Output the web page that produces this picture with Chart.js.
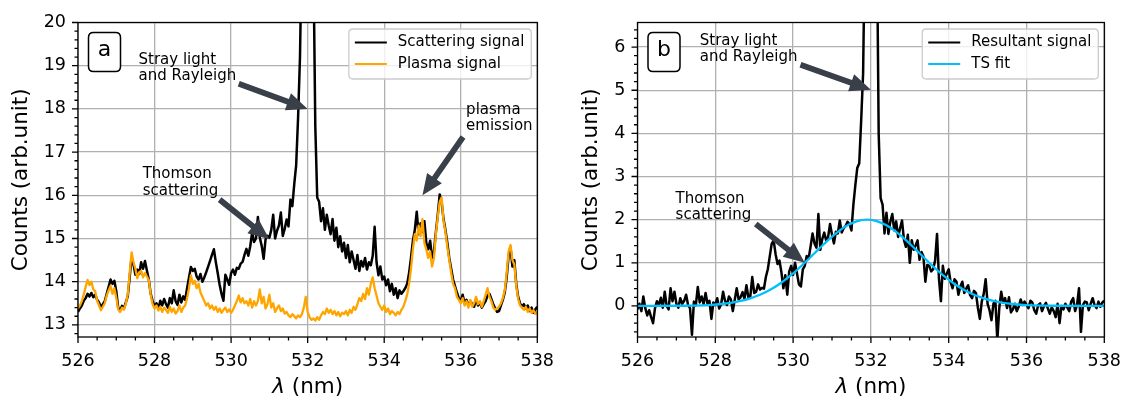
<!DOCTYPE html>
<html lang="en">
<head>
<meta charset="UTF-8">
<title>Thomson scattering spectra</title>
<style>
  body { margin: 0; background: #fff; }
  #wrap { position: relative; width: 1135px; height: 403px; }
  canvas { position: absolute; top: 0; }
  #chartA { left: 0; }
  #chartB { left: 568px; }
</style>
</head>
<body>
<div id="wrap">
  <canvas id="chartA" width="568" height="403"></canvas>
  <canvas id="chartB" width="567" height="403"></canvas>
</div>
<script src="https://cdn.jsdelivr.net/npm/chart.js"></script>
<script>
// spectrometer grid: 526.00 ... 538.00 nm, 0.05 nm per sample
const lambdaStart = 526;
const lambdaStep = 0.05;

// panel a, black (one row per nm)
const scatteringSignal = [
  13.30,13.38,13.45,13.56,13.62,13.72,13.66,13.74,13.64,13.70,13.58,13.52,13.40,13.48,13.55,13.72,13.88,14.05,13.95,14.02,
  13.78,13.40,13.34,13.44,13.38,13.52,13.66,14.10,14.57,14.40,14.16,14.28,14.18,14.45,14.30,14.48,14.26,14.05,13.72,13.55,
  13.42,13.50,13.38,13.56,13.45,13.60,13.48,13.40,13.62,13.50,13.80,13.55,13.46,13.70,13.52,13.66,13.58,13.85,14.10,14.34,
  14.25,14.30,14.12,14.05,14.18,14.00,14.10,14.22,14.35,14.48,14.62,14.75,14.46,14.20,13.93,13.72,13.56,14.16,14.05,13.93,
  14.20,14.28,14.16,14.32,14.30,14.42,14.46,14.62,14.76,14.60,14.82,15.14,14.92,15.00,15.50,15.02,14.83,14.53,14.98,15.06,
  15.02,15.20,15.55,15.00,15.18,15.30,15.60,15.06,15.22,15.44,15.28,15.90,15.75,16.26,16.70,17.80,19.20,22.0,32.0,45.0,
  52.0,46.0,33.0,21.5,17.6,15.95,15.85,15.40,15.70,15.20,15.55,15.30,15.10,15.45,14.95,15.25,14.80,15.05,14.70,14.90,
  14.55,14.85,14.45,14.70,14.50,14.30,14.62,14.25,14.48,14.35,14.55,14.28,14.45,14.38,14.60,15.27,14.45,14.15,14.35,14.05,
  14.12,13.92,14.05,13.78,13.95,13.70,13.85,13.62,13.80,13.72,13.78,13.85,13.95,14.20,14.55,14.95,15.20,15.62,15.10,15.35,
  15.15,15.40,14.90,14.75,14.95,14.55,14.70,15.15,15.55,16.02,15.85,15.45,15.20,14.90,14.55,14.30,14.05,13.90,13.75,13.62,
  13.55,13.70,13.50,13.58,13.45,13.55,13.48,13.42,13.60,13.45,13.52,13.40,13.48,13.55,13.68,13.72,13.60,13.48,13.38,13.30,
  13.32,13.45,13.58,13.75,14.10,14.60,14.80,14.35,14.50,13.95,13.65,13.50,13.42,13.48,13.38,13.45,13.32,13.40,13.28,13.36,
  13.42
];

// panel a, orange
const plasmaSignal = [
  13.38,13.45,13.55,13.70,13.88,14.04,13.92,14.00,13.82,13.78,13.56,13.45,13.34,13.42,13.50,13.68,13.80,13.90,13.72,13.85,
  13.63,13.36,13.30,13.40,13.35,13.50,13.70,14.20,14.68,14.45,14.30,14.08,14.22,14.25,14.10,14.20,14.12,14.04,13.70,13.48,
  13.38,13.45,13.33,13.42,13.30,13.40,13.35,13.28,13.42,13.30,13.38,13.26,13.32,13.45,13.30,13.40,13.45,13.62,13.85,14.15,
  13.95,14.02,13.85,13.95,13.75,13.65,13.55,13.45,13.50,13.38,13.45,13.35,13.42,13.30,13.38,13.28,13.35,13.40,13.30,13.36,
  13.28,13.35,13.45,13.55,13.68,13.52,13.62,13.50,13.55,13.45,13.60,13.40,13.55,13.45,13.55,13.82,13.50,13.65,13.38,13.48,
  13.70,13.40,13.50,13.30,13.38,13.45,13.32,13.38,13.26,13.30,13.22,13.18,13.25,13.20,13.15,13.22,13.18,13.25,13.40,13.65,
  13.30,13.18,13.12,13.15,13.10,13.18,13.12,13.22,13.30,13.25,13.38,13.28,13.35,13.25,13.32,13.22,13.30,13.20,13.28,13.25,
  13.32,13.22,13.35,13.28,13.42,13.35,13.48,13.62,13.55,13.72,13.60,13.85,13.70,13.95,14.10,13.85,13.68,13.50,13.42,13.35,
  13.45,13.30,13.38,13.25,13.32,13.28,13.22,13.30,13.25,13.35,13.42,13.55,13.70,13.95,14.30,14.75,15.10,14.95,15.30,15.05,
  15.45,14.90,14.75,14.55,14.70,14.35,14.55,15.10,15.50,15.85,15.95,15.40,15.15,14.80,14.50,14.20,13.95,13.85,13.65,13.58,
  13.50,13.62,13.45,13.55,13.40,13.58,13.42,13.50,13.65,13.48,13.55,13.42,13.55,13.70,13.85,13.65,13.55,13.40,13.35,13.38,
  13.42,13.50,13.62,13.80,14.20,14.70,14.85,14.50,14.40,13.90,13.60,13.45,13.40,13.35,13.42,13.30,13.38,13.28,13.34,13.25,
  13.30
];

// panel b, black
const resultantSignal = [
  -0.08,0.05,-0.12,0.22,-0.05,-0.22,-0.10,-0.26,-0.40,-0.05,0.11,0.02,0.19,-0.04,0.33,0.00,-0.08,0.41,0.11,0.33,
  0.05,-0.04,0.18,0.05,0.12,0.26,0.02,-0.05,-0.67,0.10,0.02,0.44,0.08,0.22,0.04,0.30,0.05,0.12,-0.30,0.08,
  0.02,0.18,-0.06,0.04,0.33,0.12,0.02,0.22,0.15,-0.12,0.14,0.41,0.15,0.20,0.32,0.16,0.48,0.20,0.22,0.67,
  0.30,0.33,0.50,0.38,0.42,0.40,0.67,0.85,1.15,1.44,1.52,1.20,0.97,1.05,0.78,0.41,0.71,0.26,0.80,0.93,
  0.72,1.00,0.75,0.50,0.45,0.85,0.93,1.16,1.10,1.38,1.68,1.45,1.35,2.13,1.30,1.55,1.70,1.52,1.60,1.90,
  1.65,1.45,1.72,1.68,1.98,1.70,1.80,1.85,1.95,1.90,1.75,2.35,2.80,3.20,3.30,4.30,5.40,8.8,19,32,
  38,33,20,9.0,4.0,2.50,2.35,1.68,2.16,1.67,1.95,2.13,1.75,1.96,1.60,1.80,1.98,1.53,1.37,1.65,
  1.00,1.52,1.30,1.40,1.52,1.07,1.25,1.15,0.56,0.95,0.93,0.80,0.85,1.05,1.67,0.63,0.11,0.93,0.63,0.75,
  0.85,0.55,0.41,0.62,0.56,0.26,0.45,0.56,0.30,0.40,0.48,0.25,0.18,0.35,0.30,-0.04,-0.30,0.10,0.28,0.62,
  0.05,-0.10,-0.33,0.05,0.12,-0.80,-0.05,0.33,0.08,0.18,-0.05,0.20,-0.15,-0.08,0.05,-0.12,-0.02,0.15,0.02,0.10,
  0.03,-0.05,0.12,0.08,-0.10,-0.18,0.02,0.06,-0.12,0.00,0.07,-0.06,-0.18,-0.03,-0.12,-0.26,0.05,-0.40,0.00,-0.08,
  0.05,-0.04,-0.12,0.10,0.18,-0.12,0.03,0.41,-0.60,0.02,0.10,0.08,-0.10,0.05,0.18,0.02,-0.05,0.10,-0.02,0.08,
  0.12
];

// panel b, TS fit read at its own wavelengths
const fitLambda = [526.0, 527.15, 527.4, 527.65, 527.9, 528.15, 528.4, 528.65, 528.9, 529.15, 529.4, 529.65,
  529.9, 530.15, 530.4, 530.65, 530.9, 531.15, 531.4, 531.65, 531.9, 532.15, 532.4, 532.65, 532.9, 533.15,
  533.4, 533.65, 533.9, 534.15, 534.4, 534.65, 534.9, 535.15, 535.4, 535.65, 535.9, 536.15, 536.4, 536.65, 538.0];
const fitCounts = [0.0, 0.004, 0.008, 0.015, 0.026, 0.045, 0.073, 0.115, 0.176, 0.259, 0.369, 0.509,
  0.678, 0.874, 1.089, 1.311, 1.527, 1.718, 1.869, 1.966, 2.0, 1.966, 1.869, 1.718, 1.527, 1.311,
  1.089, 0.874, 0.678, 0.509, 0.369, 0.259, 0.176, 0.115, 0.073, 0.045, 0.026, 0.015, 0.008, 0.004, 0.0];

const xTickLabels = [526, 528, 530, 532, 534, 536, 538];
const yTickLabelsA = [13, 14, 15, 16, 17, 18, 19, 20];
const yTickLabelsB = [0, 1, 2, 3, 4, 5, 6];

const FONT = '"DejaVu Sans", sans-serif';
const ARROW = '#3a404a';

function onGrid(values) {
  return values.map((v, i) => ({ x: +(lambdaStart + i * lambdaStep).toFixed(2), y: v }));
}

function roundRect(ctx, x, y, w, h, r) {
  ctx.beginPath();
  ctx.moveTo(x + r, y);
  ctx.lineTo(x + w - r, y);
  ctx.quadraticCurveTo(x + w, y, x + w, y + r);
  ctx.lineTo(x + w, y + h - r);
  ctx.quadraticCurveTo(x + w, y + h, x + w - r, y + h);
  ctx.lineTo(x + r, y + h);
  ctx.quadraticCurveTo(x, y + h, x, y + h - r);
  ctx.lineTo(x, y + r);
  ctx.quadraticCurveTo(x, y, x + r, y);
  ctx.closePath();
}

function drawArrow(ctx, x0, y0, x1, y1) {
  const len = Math.hypot(x1 - x0, y1 - y0);
  const ux = (x1 - x0) / len, uy = (y1 - y0) / len;
  const nx = -uy, ny = ux;
  const w = 2.9, hw = 9, hl = 21;
  const bx = x1 - ux * hl, by = y1 - uy * hl;
  ctx.beginPath();
  ctx.moveTo(x0 + nx * w, y0 + ny * w);
  ctx.lineTo(bx + nx * w, by + ny * w);
  ctx.lineTo(bx + nx * hw, by + ny * hw);
  ctx.lineTo(x1, y1);
  ctx.lineTo(bx - nx * hw, by - ny * hw);
  ctx.lineTo(bx - nx * w, by - ny * w);
  ctx.lineTo(x0 - nx * w, y0 - ny * w);
  ctx.closePath();
  ctx.fill();
}

// ticks, frame, panel letter, annotations, legend, x title
const decorPlugin = {
  id: 'decor',
  afterDraw(chart, args, opts) {
    const { ctx, chartArea: area, scales: { x, y } } = chart;
    ctx.save();

    // tick marks (major + minor), outward
    ctx.strokeStyle = '#000';
    ctx.lineWidth = 1.3;
    ctx.beginPath();
    [[x, 0.5, true], [y, 0.2, false]].forEach(([s, step, horiz]) => {
      const majors = s.ticks.map(t => t.value);
      const first = Math.ceil(s.min / step - 1e-6), last = Math.floor(s.max / step + 1e-6);
      for (let k = first; k <= last; k++) {
        const v = k * step;
        const len = majors.some(m => Math.abs(m - v) < 1e-6) ? 6 : 3.5;
        const p = s.getPixelForValue(v);
        if (horiz) { ctx.moveTo(p, area.bottom); ctx.lineTo(p, area.bottom + len); }
        else { ctx.moveTo(area.left, p); ctx.lineTo(area.left - len, p); }
      }
    });
    ctx.stroke();
    ctx.strokeRect(area.left, area.top, area.width, area.height);

    // panel letter
    ctx.lineWidth = 1.5;
    roundRect(ctx, area.left + 10.5, area.top + 10, 32, 39, 5);
    ctx.fillStyle = '#fff';
    ctx.fill();
    ctx.stroke();
    ctx.fillStyle = '#000';
    ctx.font = '22px ' + FONT;
    ctx.textAlign = 'center';
    ctx.textBaseline = 'middle';
    ctx.fillText(opts.tag, area.left + 26.5, area.top + 28);

    // annotations
    ctx.textAlign = 'left';
    ctx.textBaseline = 'alphabetic';
    ctx.font = '15px ' + FONT;
    opts.notes.forEach(n => {
      const tx = x.getPixelForValue(n.at[0]), ty = y.getPixelForValue(n.at[1]);
      ctx.fillStyle = '#000';
      n.lines.forEach((t, i) => ctx.fillText(t, tx, ty + i * 16.5));
      ctx.fillStyle = ARROW;
      drawArrow(ctx, x.getPixelForValue(n.tail[0]), y.getPixelForValue(n.tail[1]),
        x.getPixelForValue(n.tip[0]), y.getPixelForValue(n.tip[1]));
    });

    // legend
    const sets = chart.data.datasets;
    const textW = Math.max(...sets.map(d => ctx.measureText(d.label).width));
    const boxW = 56 + textW, boxR = area.right - 6, boxL = boxR - boxW, boxT = area.top + 6.5;
    roundRect(ctx, boxL, boxT, boxW, 50, 4);
    ctx.fillStyle = 'rgba(255,255,255,0.8)';
    ctx.fill();
    ctx.strokeStyle = '#cccccc';
    ctx.lineWidth = 1.3;
    ctx.stroke();
    ctx.textBaseline = 'middle';
    sets.forEach((d, i) => {
      const ry = boxT + 13.5 + i * 21.6;
      ctx.strokeStyle = d.borderColor;
      ctx.lineWidth = 2;
      ctx.beginPath();
      ctx.moveTo(boxL + 6, ry);
      ctx.lineTo(boxL + 38, ry);
      ctx.stroke();
      ctx.fillStyle = '#000';
      ctx.fillText(d.label, boxL + 49, ry);
    });

    // x title with italic lambda
    ctx.font = 'italic 21.5px ' + FONT;
    const wl = ctx.measureText('λ').width;
    ctx.font = '21.5px ' + FONT;
    const wr = ctx.measureText(' (nm)').width;
    const sx = (area.left + area.right) / 2 - (wl + wr) / 2, sy = area.bottom + 50;
    ctx.fillStyle = '#000';
    ctx.textAlign = 'left';
    ctx.font = 'italic 21.5px ' + FONT;
    ctx.fillText('λ', sx, sy);
    ctx.font = '21.5px ' + FONT;
    ctx.fillText(' (nm)', sx + wl, sy);
    ctx.restore();
  }
};

function makePanel(p) {
  const grid = { color: '#b0b0b0', lineWidth: 1.3, drawTicks: false };
  const tickFont = { family: FONT, size: 17.5 };
  return new Chart(document.getElementById(p.canvas), {
    type: 'line',
    data: { datasets: p.datasets },
    plugins: [decorPlugin],
    options: {
      responsive: false,
      animation: false,
      devicePixelRatio: 1,
      layout: { padding: { left: 0, right: p.padRight, top: 11.7, bottom: 0 }, autoPadding: false },
      elements: { point: { radius: 0 }, line: { tension: 0, borderJoinStyle: 'round' } },
      plugins: { legend: { display: false }, tooltip: { enabled: false }, decor: { tag: p.tag, notes: p.notes } },
      scales: {
        x: {
          type: 'linear', min: 526, max: 538,
          afterBuildTicks: s => { s.ticks = xTickLabels.map(v => ({ value: v })); },
          afterFit: s => { s.height = 66; },
          grid: grid, border: { display: false },
          ticks: { color: '#000', padding: 14, maxRotation: 0, autoSkip: false, font: tickFont }
        },
        y: {
          type: 'linear', min: p.yMin, max: p.yMax,
          afterBuildTicks: s => { s.ticks = p.yTicks.map(v => ({ value: v })); },
          afterFit: s => { s.width = p.axisWidth; },
          grid: grid, border: { display: false },
          ticks: { color: '#000', padding: 12, autoSkip: false, font: tickFont },
          title: { display: true, text: 'Counts (arb.unit)', color: '#000',
                   font: { family: FONT, size: 21.5 }, padding: { top: p.titlePad, bottom: 0 } }
        }
      }
    }
  });
}

makePanel({
  canvas: 'chartA', tag: 'a', yMin: 12.72, yMax: 20, yTicks: yTickLabelsA,
  axisWidth: 78, padRight: 20, titlePad: 9,
  datasets: [
    { label: 'Scattering signal', data: onGrid(scatteringSignal), borderColor: '#000000', borderWidth: 2.5, order: 1, clip: 0 },
    { label: 'Plasma signal', data: onGrid(plasmaSignal), borderColor: '#ffa500', borderWidth: 2.3, order: 0, clip: 0 }
  ],
  notes: [
    { lines: ['Stray light', 'and Rayleigh'], at: [527.58, 19.05], tail: [530.2, 18.58], tip: [532.0, 18.0] },
    { lines: ['Thomson', 'scattering'], at: [527.69, 16.40], tail: [529.7, 15.9], tip: [531.0, 14.98] },
    { lines: ['plasma', 'emission'], at: [536.14, 17.89], tail: [536.06, 17.35], tip: [535.0, 16.0] }
  ]
});

makePanel({
  canvas: 'chartB', tag: 'b', yMin: -0.72, yMax: 6.57, yTicks: yTickLabelsB,
  axisWidth: 69.5, padRight: 27.5, titlePad: 11,
  datasets: [
    { label: 'Resultant signal', data: onGrid(resultantSignal), borderColor: '#000000', borderWidth: 2.5, order: 1, clip: 0 },
    { label: 'TS fit', data: fitLambda.map((l, i) => ({ x: l, y: fitCounts[i] })), borderColor: '#00bfff',
      borderWidth: 2.3, order: 0, clip: 0, cubicInterpolationMode: 'monotone' }
  ],
  notes: [
    { lines: ['Stray light', 'and Rayleigh'], at: [527.60, 6.06], tail: [530.19, 5.59], tip: [532.0, 5.01] },
    { lines: ['Thomson', 'scattering'], at: [526.98, 2.39], tail: [529.04, 1.9], tip: [530.3, 1.0] }
  ]
});
</script>
</body>
</html>
